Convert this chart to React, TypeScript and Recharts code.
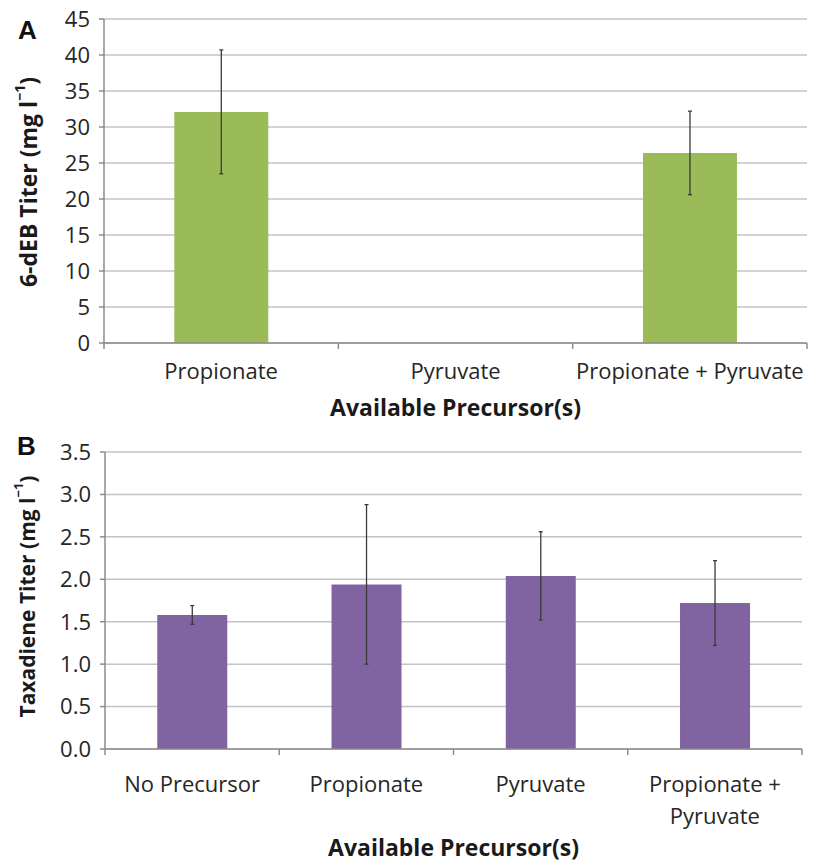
import React from 'react';
import { BarChart, Bar, XAxis, YAxis, CartesianGrid, ErrorBar, Label } from 'recharts';

const FONT = '"Open Sans", sans-serif';

// panel A: 6-dEB titer
const debCategories = ['Propionate', 'Pyruvate', 'Propionate + Pyruvate'];
const debTiter = [32.1, null, 26.4];
const debError = [8.6, null, 5.8];
const debTicks = [0, 5, 10, 15, 20, 25, 30, 35, 40, 45];

// panel B: taxadiene titer
const taxCategories = ['No Precursor', 'Propionate', 'Pyruvate', 'Propionate +\nPyruvate'];
const taxTiter = [1.58, 1.94, 2.04, 1.72];
const taxError = [0.11, 0.94, 0.52, 0.5];
const taxTicks = [0, 0.5, 1, 1.5, 2, 2.5, 3, 3.5];

const debData = debCategories.map((name, i) => ({ name, value: debTiter[i], err: debError[i] }));
const taxData = taxCategories.map((name, i) => ({ name, value: taxTiter[i], err: taxError[i] }));

const AXIS = '#8c8c8c';
const GRID = '#c4c4c4';

const CategoryTick = (props: any) => {
  const { x, y, payload, index, visibleTicksCount, textDy, band } = props;
  const half = payload.offset || band / 2;
  const lines = String(payload.value).split('\n');
  return (
    <g>
      <line x1={x - half} x2={x - half} y1={y - 6} y2={y} stroke={AXIS} strokeWidth={1.5} />
      {index === visibleTicksCount - 1 && (
        <line x1={x + half} x2={x + half} y1={y - 6} y2={y} stroke={AXIS} strokeWidth={1.5} />
      )}
      <text x={x} y={y + textDy} textAnchor="middle" dominantBaseline="central" fontFamily={FONT} fontSize={22} fill="#262626">
        {lines.map((l, i) => (
          <tspan key={i} x={x} dy={i === 0 ? 0 : 32}>{l}</tspan>
        ))}
      </text>
    </g>
  );
};

const xTitle = (shift: number) => (props: any) => {
  const vb = props.viewBox;
  return (
    <text x={vb.x + vb.width / 2} y={vb.y + vb.height + shift} textAnchor="middle" dominantBaseline="central"
      fontFamily={FONT} fontSize={23} fontWeight={700} fill="#1a1a1a">
      Available Precursor(s)
    </text>
  );
};

const yTitle = (text: string, dx: number, size: number, dyShift: number) => (props: any) => {
  const vb = props.viewBox;
  const cx = vb.x + dx;
  const cy = vb.y + vb.height / 2 + dyShift;
  return (
    <text x={cx} y={cy} transform={`rotate(-90 ${cx} ${cy})`} textAnchor="middle" dominantBaseline="central"
      fontFamily={FONT} fontSize={size} fontWeight={700} fill="#1a1a1a">
      <tspan>{text} (mg l</tspan>
      <tspan dy={-9} fontSize={size * 0.62}>−1</tspan>
      <tspan dy={9}>)</tspan>
    </text>
  );
};

const tickStyle = { fontFamily: FONT, fontSize: 22, fill: '#262626' };

const letterStyle: React.CSSProperties = {
  position: 'absolute',
  fontFamily: '"Liberation Sans", Arial, sans-serif',
  fontWeight: 700,
  fontSize: 26,
  lineHeight: '26px',
  color: '#111',
};

export default function App() {
  return (
    <div style={{ position: 'absolute', left: 0, top: 0, width: 815, height: 863, background: '#fff' }}>
      <div style={{ position: 'absolute', left: 0, top: 0 }}>
        <BarChart width={815} height={430} data={debData} margin={{ top: 19, right: 8, left: 4, bottom: 37 }} barCategoryGap="30%">
          <CartesianGrid vertical={false} stroke={GRID} strokeWidth={1.5} />
          <XAxis dataKey="name" height={50} tickLine={false} tickSize={6} tickMargin={0} interval={0}
            axisLine={{ stroke: AXIS, strokeWidth: 1.5 }}
            tick={<CategoryTick textDy={21} band={234} />}>
            <Label content={xTitle(14)} />
          </XAxis>
          <YAxis width={100} domain={[0, 45]} ticks={debTicks} interval={0} tick={tickStyle}
            tickSize={5} tickMargin={9} axisLine={{ stroke: AXIS, strokeWidth: 1.5 }} tickLine={{ stroke: AXIS, strokeWidth: 1.5 }}>
            <Label content={yTitle('6-dEB Titer', 24, 23, 1)} />
          </YAxis>
          <Bar dataKey="value" fill="#9BBB59" isAnimationActive={false}>
            <ErrorBar dataKey="err" width={2} stroke="#3a3a3a" strokeWidth={1.3} isAnimationActive={false} />
          </Bar>
        </BarChart>
      </div>
      <div style={{ position: 'absolute', left: 0, top: 430 }}>
        <BarChart width={815} height={433} data={taxData} margin={{ top: 22, right: 13, left: 5, bottom: 34 }} barCategoryGap="30%">
          <CartesianGrid vertical={false} stroke={GRID} strokeWidth={1.5} />
          <XAxis dataKey="name" height={80} tickLine={false} tickSize={6} tickMargin={0} interval={0}
            axisLine={{ stroke: AXIS, strokeWidth: 1.5 }}
            tick={<CategoryTick textDy={28} band={174} />}>
            <Label content={xTitle(18)} />
          </XAxis>
          <YAxis width={100} domain={[0, 3.5]} ticks={taxTicks} interval={0} tick={tickStyle}
            tickFormatter={(v: number) => v.toFixed(1)}
            tickSize={5} tickMargin={9} axisLine={{ stroke: AXIS, strokeWidth: 1.5 }} tickLine={{ stroke: AXIS, strokeWidth: 1.5 }}>
            <Label content={yTitle('Taxadiene Titer', 22, 21, -4)} />
          </YAxis>
          <Bar dataKey="value" fill="#8064A2" isAnimationActive={false}>
            <ErrorBar dataKey="err" width={2} stroke="#3a3a3a" strokeWidth={1.3} isAnimationActive={false} />
          </Bar>
        </BarChart>
      </div>
      <div style={{ ...letterStyle, left: 18, top: 17 }}>A</div>
      <div style={{ ...letterStyle, left: 17, top: 433 }}>B</div>
    </div>
  );
}
